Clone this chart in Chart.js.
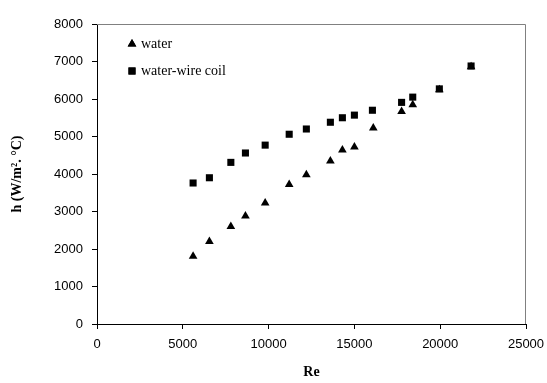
<!DOCTYPE html>
<html>
<head>
<meta charset="utf-8">
<script src="https://cdn.jsdelivr.net/npm/chart.js@4/dist/chart.umd.min.js"></script>
<style>
  html, body { margin: 0; padding: 0; background: #fff; }
  #wrap { width: 547px; height: 383px; }
</style>
</head>
<body>
<div id="wrap"><canvas id="c" width="547" height="383"></canvas></div>
<script>
const reWater = [5600, 6550, 7800, 8650, 9800, 11200, 12200, 13600, 14300, 15000, 16100, 17750, 18400, 19950, 21800]
const hWater  = [1810, 2200, 2600, 2880, 3230, 3720, 3980, 4350, 4640, 4720, 5230, 5670, 5850, 6250, 6860]
const reCoil  = [5600, 6550, 7800, 8650, 9800, 11200, 12200, 13600, 14300, 15000, 16050, 17750, 18400, 19950, 21800]
const hCoil   = [3760, 3900, 4310, 4560, 4770, 5060, 5200, 5380, 5500, 5570, 5700, 5910, 6050, 6270, 6880]
const seriesNames = ['water', 'water-wire coil']
const xLabel = 'Re'
const yLabel = 'h (W/m². °C)'

const toPts = (xs, ys) => xs.map((x, i) => ({x, y: ys[i]}))
const plain = v => String(v)

// gray top/right frame + legend inside plot
const framePlugin = {
  id: 'frame',
  afterDraw(chart){
    const {ctx, chartArea: a} = chart
    ctx.save()
    ctx.strokeStyle = '#808080'
    ctx.lineWidth = 1
    ctx.beginPath()
    ctx.moveTo(a.left, a.top + 0.5)
    ctx.lineTo(a.right - 0.5, a.top + 0.5)
    ctx.lineTo(a.right - 0.5, a.bottom)
    ctx.stroke()
    // legend
    ctx.fillStyle = '#000'
    ctx.font = '14px "Liberation Serif", "Times New Roman", serif'
    ctx.textBaseline = 'middle'
    const rows = [[44, 'triangle'], [71, 'rect']]
    chart.data.datasets.forEach((ds, i) => {
      const y = rows[i][0]
      Chart.helpers.drawPoint(ctx, {pointStyle: rows[i][1], radius: ds.pointRadius, borderWidth: 0}, 132, y)
      ctx.fill()
      ctx.fillText(ds.label, 141, y)
    })
    ctx.restore()
  }
}

new Chart(document.getElementById('c'), {
  type: 'scatter',
  data: {
    datasets: [
      { label: seriesNames[0], data: toPts(reWater, hWater), pointStyle: 'triangle', pointRadius: 5,
        backgroundColor: '#000', borderColor: '#000', borderWidth: 0, order: 2 },
      { label: seriesNames[1], data: toPts(reCoil, hCoil), pointStyle: 'rect', pointRadius: 5,
        backgroundColor: '#000', borderColor: '#000', borderWidth: 0, order: 1 }
    ]
  },
  options: {
    responsive: false,
    animation: false,
    layout: { autoPadding: false, padding: { top: 24, right: 21, left: 0, bottom: 0 } },
    plugins: { legend: { display: false }, tooltip: { enabled: false } },
    scales: {
      x: {
        type: 'linear', min: 0, max: 25000,
        afterFit: s => { s.height = 59; s.paddingLeft = 0; s.paddingRight = 0 },
        ticks: { stepSize: 5000, padding: 8, color: '#000', maxRotation: 0, callback: plain,
                 font: { family: '"Liberation Sans", Arial, sans-serif', size: 13 } },
        grid: { drawOnChartArea: false, drawTicks: true, tickLength: 5, color: '#000' },
        border: { color: '#000', width: 1 },
        title: { display: true, text: xLabel, color: '#000', padding: { top: 0, bottom: 2 },
                 font: { family: '"Liberation Serif", "Times New Roman", serif', size: 14, weight: 'bold' } }
      },
      y: {
        type: 'linear', min: 0, max: 8000,
        afterFit: s => { s.width = 97 },
        ticks: { stepSize: 1000, padding: 9, color: '#000', callback: plain,
                 font: { family: '"Liberation Sans", Arial, sans-serif', size: 13 } },
        grid: { drawOnChartArea: false, drawTicks: true, tickLength: 5, color: '#000' },
        border: { color: '#000', width: 1 },
        title: { display: true, text: yLabel, color: '#000', padding: { top: 9, bottom: 0 },
                 font: { family: '"Liberation Serif", "Times New Roman", serif', size: 14, weight: 'bold' } }
      }
    }
  },
  plugins: [framePlugin]
})
</script>
</body>
</html>
